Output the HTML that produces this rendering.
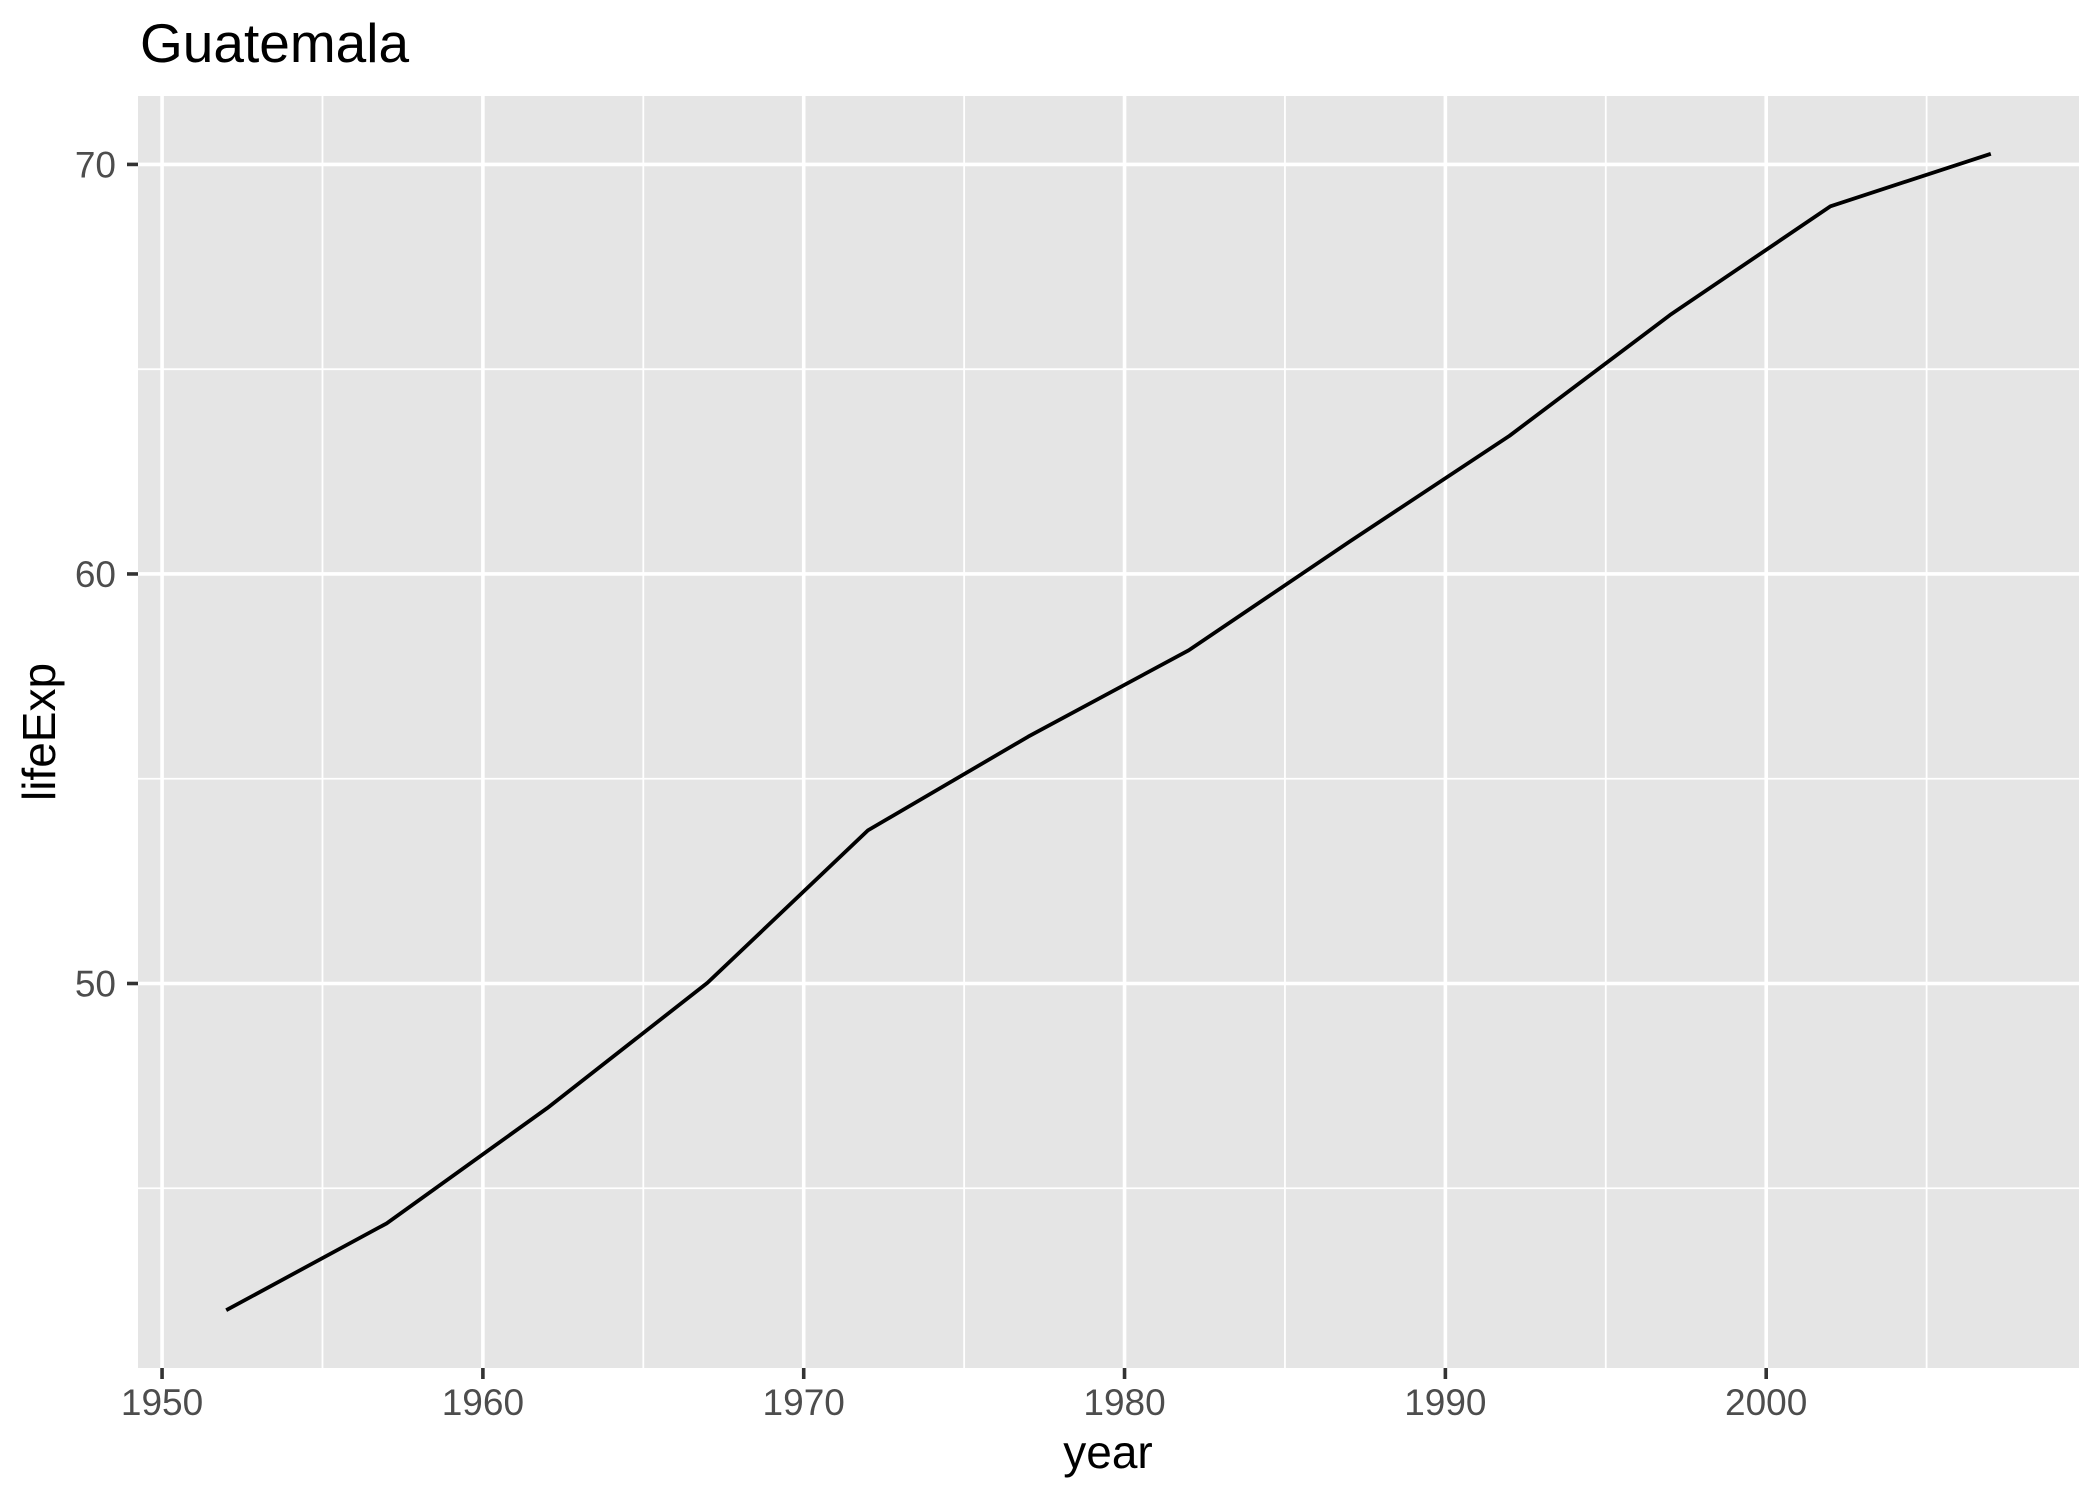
<!DOCTYPE html>
<html><head><meta charset="utf-8"><style>
html,body{margin:0;padding:0;background:#fff;}
svg{display:block;font-family:"Liberation Sans",sans-serif;}
</style></head><body>
<svg id="chart" width="2099" height="1499" viewBox="0 0 2099 1499" xmlns="http://www.w3.org/2000/svg">
<rect x="0" y="0" width="2099" height="1499" fill="#fff"/>
<text x="140" y="62" font-size="55" fill="#000">Guatemala</text>
<rect x="138" y="96" width="1941" height="1272" fill="#e5e5e5"/>
<g id="grid"></g>
<g id="axes"></g>
<path id="series" fill="none" stroke="#000" stroke-width="3.8" stroke-linejoin="round"/>
<text x="1108" y="1468" font-size="46" text-anchor="middle" fill="#000">year</text>
<text transform="translate(55,732) rotate(-90)" font-size="46" text-anchor="middle" fill="#000">lifeExp</text>
</svg>
<script>
const years = [1952,1957,1962,1967,1972,1977,1982,1987,1992,1997,2002,2007];
const lifeExp = [42.023,44.142,46.954,50.016,53.738,56.029,58.137,60.782,63.373,66.322,68.978,70.259];
const xTicks = [1950,1960,1970,1980,1990,2000];
const xMinor = [1955,1965,1975,1985,1995,2005];
const yTicks = [50,60,70];
const yMinor = [45,55,65];

const PL=138, PR=2079, PT=96, PB=1368;
const xmin=Math.min(...years), xmax=Math.max(...years);
const ymin=Math.min(...lifeExp), ymax=Math.max(...lifeExp);
const xe=(xmax-xmin)*0.05, ye=(ymax-ymin)*0.05;
function sx(v){return PL+(v-(xmin-xe))/((xmax+xe)-(xmin-xe))*(PR-PL);}
function sy(v){return PB-(v-(ymin-ye))/((ymax+ye)-(ymin-ye))*(PB-PT);}
const NS="http://www.w3.org/2000/svg";
const grid=document.getElementById('grid'), axes=document.getElementById('axes');
function mk(tag,attrs,parent){const e=document.createElementNS(NS,tag);for(const k in attrs)e.setAttribute(k,attrs[k]);parent.appendChild(e);return e;}
yMinor.forEach(v=>{const l=mk('line',{x1:PL,x2:PR,y1:sy(v),y2:sy(v),stroke:'#fff','stroke-width':1.8},grid);

});
xMinor.forEach(v=>{const l=mk('line',{x1:sx(v),x2:sx(v),y1:PT,y2:PB,stroke:'#fff','stroke-width':1.8},grid);

});
yTicks.forEach(v=>{const y=sy(v);
const l=mk('line',{x1:PL,x2:PR,y1:y,y2:y,stroke:'#fff','stroke-width':3.6},grid);


const t=mk('line',{x1:PL-11,x2:PL,y1:y,y2:y,stroke:'#333','stroke-width':3.6},axes);


const tx=mk('text',{x:PL-22,y:y+13,'font-size':37,'text-anchor':'end',fill:'#4d4d4d'},axes);
tx.textContent=v;

});
xTicks.forEach(v=>{const x=sx(v);
const l=mk('line',{x1:x,x2:x,y1:PT,y2:PB,stroke:'#fff','stroke-width':3.6},grid);


const t=mk('line',{x1:x,x2:x,y1:PB,y2:PB+11,stroke:'#333','stroke-width':3.6},axes);


const tx=mk('text',{x:x,y:1415,'font-size':37,'text-anchor':'middle',fill:'#4d4d4d'},axes);
tx.textContent=v;

});
document.getElementById('series').setAttribute('d',years.map((yr,i)=>(i?'L':'M')+sx(yr).toFixed(1)+','+sy(lifeExp[i]).toFixed(1)).join(' '));
</script>
</body></html>
